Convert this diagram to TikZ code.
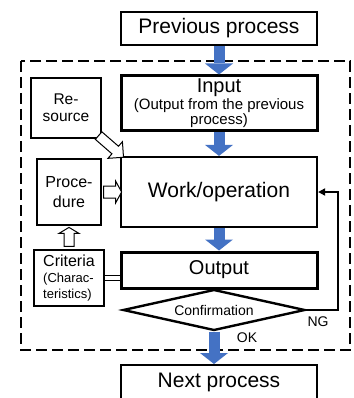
\documentclass[tikz,border=0pt]{standalone}
\usepackage{fontspec}
\setmainfont{Liberation Sans}
\usetikzlibrary{arrows.meta,shapes.geometric,calc}
\definecolor{flowblue}{RGB}{68,114,196}
\newcommand{\fs}[2]{\fontsize{#1}{#2}\selectfont}

\begin{document}
\begin{tikzpicture}[x=1pt, y=-1pt,
    mainbox/.style={draw, line width=2pt, minimum width=196pt, align=center, inner sep=0pt, font=\fs{21}{24}},
    sidebox/.style={draw, line width=1.2pt, inner sep=0pt, align=center},
    bluearrow/.style={draw=flowblue, line width=11pt, -{Triangle[length=11pt, width=28pt, line width=0pt]}},
    hollow/.style={draw, line width=1pt, fill=white, line join=miter}]
  \clip (0,0) rectangle (353,398);
  %process frame
  \draw [line width=2.4pt, dash pattern=on 11pt off 5pt] (21,61) rectangle (350,350);
  %main column
  \node [mainbox, minimum height=33pt] (prev) at (219,28.5) {Previous process};
  \node [mainbox, line width=3pt, minimum height=55pt, font=\fs{15}{12}] (inp) at (219,103.5) {\fs{20}{22}Input\\[1pt](Output from the previous\\process)};
  \node [mainbox, line width=2.2pt, minimum height=70pt] (work) at (219,192) {Work/operation};
  \node [mainbox, line width=3pt, minimum height=36pt, font=\fs{20}{24}] (out) at (219,270) {Output};
  \node [diamond, draw, line width=2.4pt, shape aspect=4.4, minimum width=182pt, minimum height=41pt, inner sep=0pt, font=\fs{14}{16}] (conf) at (214,310) {Confirmation};
  \node [mainbox, minimum height=35pt] (nxt) at (219,382.5) {Next process};
  %side boxes
  \node [sidebox, minimum width=70pt, minimum height=60pt, font=\fs{15.5}{17}] (res) at (66,108) {Re-\\source};
  \node [sidebox, minimum width=64pt, minimum height=66pt, font=\fs{16}{20}] (proc) at (69,192) {Proce-\\dure};
  \node [sidebox, minimum width=70pt, minimum height=56pt, align=left, font=\fs{13}{16}] (crit) at (69,278) {\fs{16}{18}Criteria\\(Charac-\\teristics)};
  %flow
  \draw [bluearrow] (prev) -- (inp);
  \draw [bluearrow] (inp) -- (work);
  \draw [bluearrow] (work) -- (out);
  \draw [bluearrow] (conf.south) -- (conf.south |- nxt.north);
  \draw [line width=2pt, -{Triangle[length=7pt, width=7pt]}] (conf.east) -- ++(32,0) |- (work.east);
  \node [font=\fs{14}{16}] (ng) at (318,322) {NG};
  \node [font=\fs{14}{16}] (ok) at (247,338) {OK};
  %inputs to the work
  \begin{scope}[shift={($(res.south east)+(-3,-3)$)}, rotate=-41]
    \draw [hollow] (0,-5) -- (22,-5) -- (22,-11) -- (33,0) -- (22,11) -- (22,5) -- (0,5) -- cycle;
  \end{scope}
  \begin{scope}[shift={(proc.east)}]
    \draw [hollow] (2,-6) -- (14,-6) -- (14,-11) -- (20,0) -- (14,11) -- (14,6) -- (2,6) -- cycle;
  \end{scope}
  \begin{scope}[shift={(crit.north)}, rotate=90]
    \draw [hollow] (3,-5) -- (16,-5) -- (16,-10) -- (22,0) -- (16,10) -- (16,5) -- (3,5) -- cycle;
  \end{scope}
  \draw [double, double distance=4pt, line width=1pt] (crit.east) -- (crit.east -| out.west);
\end{tikzpicture}
\end{document}
